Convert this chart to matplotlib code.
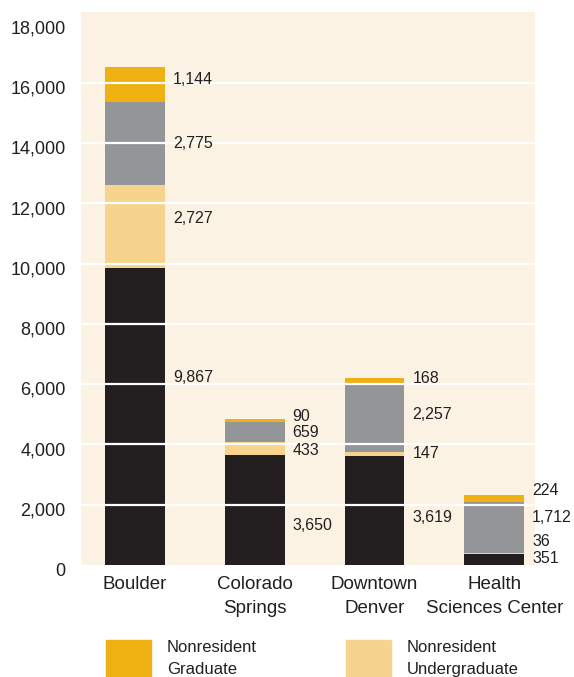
import numpy as np
import matplotlib.pyplot as plt
import matplotlib.transforms as mtransforms
from matplotlib.patches import Rectangle
from matplotlib.ticker import FuncFormatter

campuses = ["Boulder", "Colorado\nSprings", "Downtown\nDenver", "Health\nSciences Center"]

# enrollment by group, stacked bottom to top
res_undergrad = [9867, 3650, 3619, 351]
nonres_undergrad = [2727, 433, 147, 36]
res_grad = [2775, 659, 2257, 1712]
nonres_grad = [1144, 90, 168, 224]

# where each value label sits (data units), same order as the stack
label_y = [
    [6230, 11500, 13970, 16100],
    [1300, 3800, 4400, 4930],
    [1570, 3700, 5000, 6200],
    [230, 770, 1570, 2470],
]

c_bg = "#FBF2E3"
c_black = "#231F20"
c_light = "#F7D48D"
c_gray = "#939598"
c_gold = "#EFB112"
c_text = "#231F20"

plt.rcParams['font.family'] = ['Liberation Sans', 'DejaVu Sans']

fig = plt.figure(figsize=(5.74, 6.77), dpi=100)
ax = fig.add_axes([81/574, 1 - 565/677, 454/574, 553/677])
ax.set_facecolor(c_bg)

x = np.arange(len(campuses))
w = 0.5
series = [res_undergrad, nonres_undergrad, res_grad, nonres_grad]
colors = [c_black, c_light, c_gray, c_gold]
bottom = np.zeros(len(campuses))
for vals, col in zip(series, colors):
    ax.bar(x, vals, w, bottom=bottom, color=col, zorder=2)
    bottom += np.array(vals)

# white gridlines over the bars
for yv in range(2000, 18000, 2000):
    ax.axhline(yv, color="white", lw=1.6, zorder=3)

for i in range(len(campuses)):
    for vals, ly in zip(series, label_y[i]):
        ax.text(x[i] + w / 2 + 0.067, ly, f"{vals[i]:,}", va="center", ha="left",
                fontsize=11.5, color=c_text, zorder=4)

ax.set_xlim(-0.45, 3.34)
ax.set_ylim(0, 18350)
ax.set_yticks(range(0, 18001, 2000))
ax.yaxis.set_major_formatter(FuncFormatter(lambda v, p: f"{int(v):,}"))
ax.set_xticks(x)
ax.set_xticklabels(campuses, fontsize=13.5, color=c_text, linespacing=1.5)
ax.tick_params(axis="y", length=0, pad=11, labelsize=13, labelcolor=c_text)
ax.tick_params(axis="x", length=0, pad=8)
# y labels sit a touch below their lines
shift = mtransforms.ScaledTranslation(0, -3 / 72, fig.dpi_scale_trans)
for t in ax.get_yticklabels():
    t.set_transform(t.get_transform() + shift)
for s in ax.spines.values():
    s.set_visible(False)

# legend entries along the bottom edge
legend_items = [("Nonresident\nGraduate", c_gold, 106), ("Nonresident\nUndergraduate", c_light, 346)]
for lbl, col, px in legend_items:
    fig.patches.append(Rectangle((px / 574, 0), 45 / 574, 37 / 677,
                                 transform=fig.transFigure, color=col))
    fig.text((px + 61) / 574, 1 - 658.5 / 677, lbl, va="center", ha="left",
             fontsize=12, color=c_text, linespacing=1.6)

fig.savefig("out.png", dpi=100)
